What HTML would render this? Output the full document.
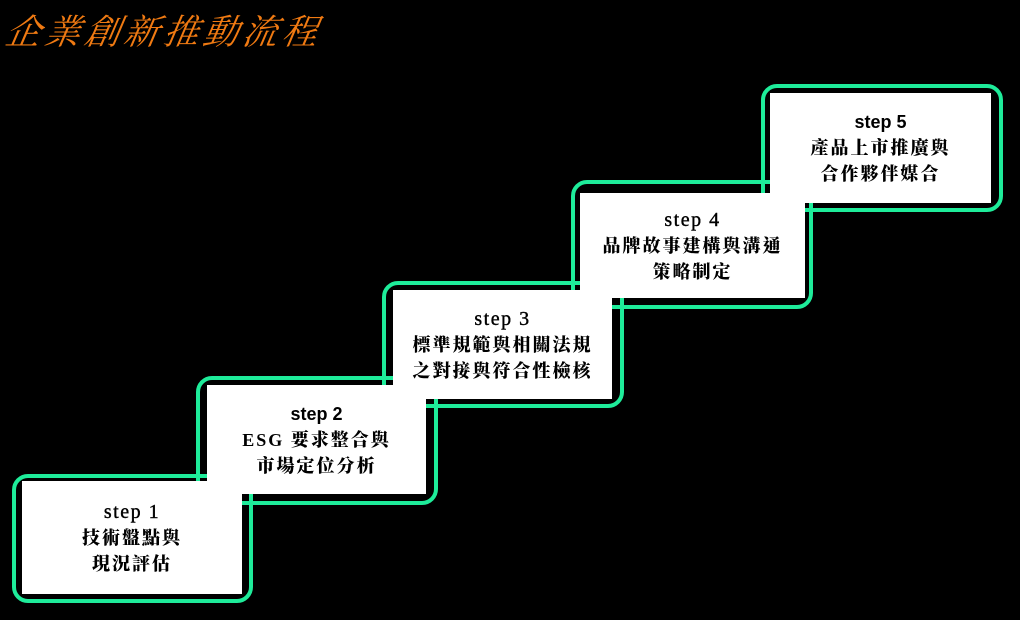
<!DOCTYPE html>
<html><head><meta charset="utf-8"><style>
html,body{margin:0;padding:0;background:#000;width:1020px;height:620px;overflow:hidden;position:relative}
.t{position:absolute;left:2px;top:5px;font-family:"Liberation Serif","Noto Serif CJK TC","Noto Serif CJK SC",serif;font-style:italic;font-size:35px;color:#f07a12;letter-spacing:4.5px;transform:skewX(-10deg);transform-origin:bottom left}
.g{position:absolute;border:4px solid #1eec9a;border-radius:16px;box-sizing:border-box}
.w{position:absolute;background:#fff;display:flex;flex-direction:column;align-items:center;justify-content:center;font-family:"Liberation Serif","Noto Serif CJK TC","Noto Serif CJK SC",serif;font-weight:900;font-size:18px;line-height:26px;color:#000;letter-spacing:2px}
.s{font-family:"Liberation Serif",serif;font-weight:normal;font-size:20px;letter-spacing:1.5px;-webkit-text-stroke:0.4px #000}
.b{font-family:"Liberation Sans","DejaVu Sans",sans-serif;font-weight:bold;font-size:18px;letter-spacing:0}
</style></head><body>
<div class="t">企業創新推動流程</div>
<div class="g" style="left:12px;top:474px;width:241px;height:129px"></div>
<div class="g" style="left:196px;top:376px;width:242px;height:129px"></div>
<div class="g" style="left:382px;top:281px;width:242px;height:127px"></div>
<div class="g" style="left:571px;top:180px;width:242px;height:129px"></div>
<div class="g" style="left:761px;top:84px;width:242px;height:128px"></div>

<div class="w" style="left:22px;top:481px;width:220px;height:113px"><div class="s">step 1</div><div>技術盤點與</div><div>現況評估</div></div>
<div class="w" style="left:207px;top:385px;width:219px;height:109px"><div class="b">step 2</div><div>ESG 要求整合與</div><div>市場定位分析</div></div>
<div class="w" style="left:393px;top:290px;width:219px;height:109px"><div class="s">step 3</div><div>標準規範與相關法規</div><div>之對接與符合性檢核</div></div>
<div class="w" style="left:580px;top:193px;width:225px;height:105px"><div class="s">step 4</div><div>品牌故事建構與溝通</div><div>策略制定</div></div>
<div class="w" style="left:770px;top:93px;width:221px;height:110px"><div class="b">step 5</div><div>產品上市推廣與</div><div>合作夥伴媒合</div></div>
</body></html>
